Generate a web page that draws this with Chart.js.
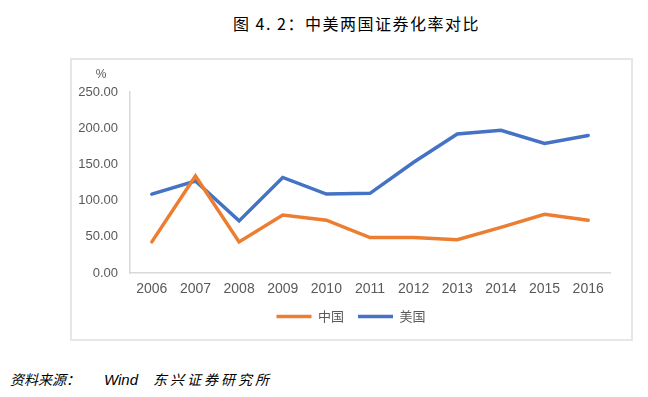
<!DOCTYPE html>
<html lang="zh">
<head>
  <meta charset="UTF-8" />
  <title>中美两国证券化率对比</title>
  <script src="https://cdn.jsdelivr.net/npm/chart.js"></script>
  <style>
    body {
      margin: 0;
      width: 648px;
      height: 397px;
      background: white;
      position: relative;
      overflow: hidden;
      font-family: "Noto Sans CJK SC", sans-serif;
    }
    #title {
      position: absolute;
      top: 11px;
      left: 233px;
      font-size: 16px;
      letter-spacing: 1.5px;
      white-space: nowrap;
      color: #000;
    }
    #box {
      position: absolute;
      left: 70px;
      top: 58px;
      width: 559px;
      height: 279px;
      border: 2px solid #e6e6e6;
    }
    .src {
      position: absolute;
      top: 369px;
      font-size: 14px;
      font-style: italic;
      white-space: nowrap;
      color: #000;
    }
  </style>
</head>
<body>
  <div id="title">图 4. 2：中美两国证券化率对比</div>
  <div id="box"><canvas id="rateChart" width="559" height="279"></canvas></div>
  <div class="src" style="left: 10px">资料来源：</div>
  <div class="src" style="left: 104px; font-family: 'Liberation Sans'; font-size: 15px; top: 371px">Wind</div>
  <div class="src" style="left: 153px; letter-spacing: 3px">东兴证券研究所</div>

  <script>
    const years = ['2006', '2007', '2008', '2009', '2010', '2011', '2012', '2013', '2014', '2015', '2016'];
    const china = [43, 134, 43, 80, 73, 49, 49, 46, 63, 81, 73];
    const usa = [109, 127, 72, 132, 109, 110, 153, 192, 197, 179, 190];
    const yTicks = [0, 50, 100, 150, 200, 250];

    const ctx = document.getElementById('rateChart').getContext('2d');

    // "%" unit above the y axis
    const unitLabel = {
      id: 'unitLabel',
      afterDraw(chart) {
        const c = chart.ctx;
        c.save();
        c.font = '12px "Liberation Sans"';
        c.fillStyle = '#595959';
        c.textAlign = 'center';
        c.textBaseline = 'middle';
        c.fillText('%', 29, 15);
        c.restore();
      }
    };

    // legend is centred under the whole box, not just the plot
    const legendShift = {
      id: 'legendShift',
      afterLayout(chart) {
        chart.legend.left += 10;
        chart.legend.right += 10;
      }
    };

    new Chart(ctx, {
      type: 'line',
      data: {
        labels: years,
        datasets: [
          {
            label: '中国',
            data: china,
            borderColor: '#ED7D31',
            backgroundColor: '#ED7D31',
            borderWidth: 3.5,
            borderCapStyle: 'round',
            pointRadius: 0,
            tension: 0
          },
          {
            label: '美国',
            data: usa,
            borderColor: '#4472C4',
            backgroundColor: '#4472C4',
            borderWidth: 3.5,
            borderCapStyle: 'round',
            pointRadius: 0,
            tension: 0
          }
        ]
      },
      options: {
        responsive: false,
        animation: false,
        layout: { padding: { top: 32, right: 21, bottom: 6, left: 0 } },
        scales: {
          x: {
            offset: true,
            grid: { drawOnChartArea: false, drawTicks: false },
            border: { color: '#d9d9d9', width: 1.5 },
            ticks: {
              color: '#595959',
              font: { family: 'Liberation Sans', size: 14 },
              padding: 8,
              maxRotation: 0,
              autoSkip: false
            },
            afterFit(scale) { scale.height = 23; }
          },
          y: {
            min: 0,
            max: 250,
            grid: { drawOnChartArea: false, drawTicks: false },
            border: { color: '#d9d9d9', width: 1.5 },
            afterBuildTicks(scale) { scale.ticks = yTicks.map(v => ({ value: v })); },
            ticks: {
              color: '#595959',
              font: { family: 'Liberation Sans', size: 13 },
              padding: 12,
              callback: v => v.toFixed(2)
            },
            afterFit(scale) { scale.width = 58; }
          }
        },
        plugins: {
          legend: {
            position: 'bottom',
            labels: {
              usePointStyle: true,
              pointStyle: 'line',
              pointStyleWidth: 35,
              boxHeight: 12,
              padding: 14,
              color: '#595959',
              font: { family: 'Noto Sans CJK SC', size: 13 }
            }
          },
          tooltip: { enabled: false }
        }
      },
      plugins: [unitLabel, legendShift]
    });
  </script>
</body>
</html>
